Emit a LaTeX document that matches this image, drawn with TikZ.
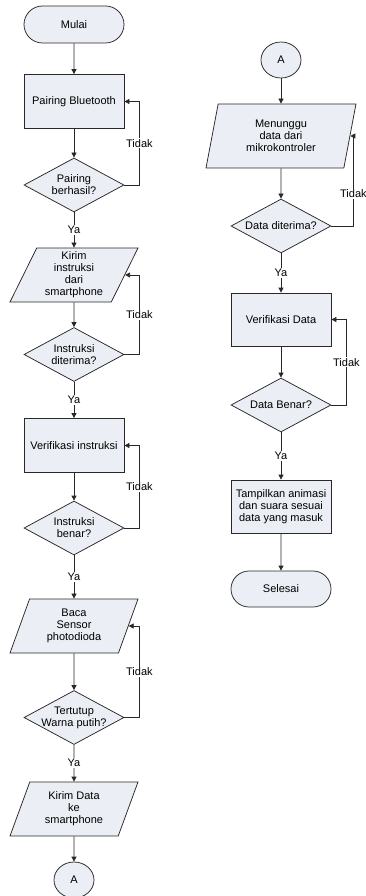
\documentclass[tikz,border=0pt]{standalone}
\usepackage{fontspec}
\setmainfont{Liberation Sans}
\usetikzlibrary{shapes.geometric,shapes.misc,arrows.meta}
\definecolor{boxfill}{RGB}{235,238,244}
\definecolor{linecol}{RGB}{40,40,40}
\tikzset{every picture/.style={line width=0.75pt}}
\tikzset{
  base/.style={draw=linecol, fill=boxfill, text=black, font=\fontsize{11}{12}\selectfont, align=center, inner sep=0pt},
  terminal/.style={base, rounded rectangle, minimum width=100pt, minimum height=37pt},
  process/.style={base, rectangle, minimum width=100pt, minimum height=54pt},
  decision/.style={base, diamond, aspect=1.85, minimum width=100pt, minimum height=54pt},
  io/.style={base, trapezium, trapezium stretches body, trapezium left angle=60, trapezium right angle=120, minimum width=128pt, minimum height=54pt},
  connector/.style={base, ellipse, minimum width=40pt, minimum height=36pt},
  flow/.style={draw=linecol, -{Triangle[length=5pt,width=5pt]}},
  answer/.style={fill=white, text=black, font=\fontsize{11}{12}\selectfont, inner sep=1pt}
}

\begin{document}
\begin{tikzpicture}[x=1pt,y=1pt,yscale=-1,xscale=1]
\useasboundingbox (0,0) rectangle (366,896);

%Left column
\node[terminal] (mulai) at (74,24.5) {Mulai};
\node[process] (pairing) at (74,101.5) {Pairing Bluetooth};
\node[decision] (cekpair) at (74,185) {Pairing\\berhasil?};
\node[io] (kirim) at (74,275) {Kirim\\instruksi\\dari\\smartphone};
\node[decision] (cekterima) at (74,354.5) {Instruksi\\diterima?};
\node[process] (verif) at (74,445.5) {Verifikasi instruksi};
\node[decision] (cekbenar) at (74,528) {Instruksi\\benar?};
\node[io] (baca) at (74,626) {Baca\\Sensor\\photodioda};
\node[decision, inner sep=-4pt] (cekputih) at (74,717.5) {Tertutup\\Warna putih?};
\node[io] (kirimdata) at (74,809) {Kirim Data\\ke\\smartphone};
\node[connector] (keA) at (74,880) {A};

%Right column
\node[connector] (dariA) at (281,60) {A};
\node[io, trapezium left angle=69, trapezium right angle=111, minimum width=150pt, minimum height=64pt] (tunggu) at (281,136) {Menunggu\\data dari\\mikrokontroler};
\node[decision] (cekdata) at (281,226) {Data diterima?};
\node[process, minimum height=53pt] (verifdata) at (281,319.5) {Verifikasi Data};
\node[decision] (cekbenardata) at (281,405) {Data Benar?};
\node[process, minimum height=53pt] (tampil) at (281,506.5) {Tampilkan animasi\\dan suara sesuai\\data yang masuk};
\node[terminal, minimum height=36pt] (selesai) at (281,589) {Selesai};

%Straight Lines
\draw[flow] (mulai) -- (pairing);
\draw[flow] (pairing) -- (cekpair);
\draw[flow] (cekpair) -- node[answer] {Ya} (kirim);
\draw[flow] (kirim) -- (cekterima);
\draw[flow] (cekterima) -- node[answer] {Ya} (verif);
\draw[flow] (verif) -- (cekbenar);
\draw[flow] (cekbenar) -- node[answer] {Ya} (baca);
\draw[flow] (baca) -- (cekputih);
\draw[flow] (cekputih) -- node[answer] {Ya} (kirimdata);
\draw[flow] (kirimdata) -- (keA);

\draw[flow] (dariA) -- (tunggu);
\draw[flow] (tunggu) -- (cekdata);
\draw[flow] (cekdata) -- node[answer] {Ya} (verifdata);
\draw[flow] (verifdata) -- (cekbenardata);
\draw[flow] (cekbenardata) -- node[answer] {Ya} (tampil);
\draw[flow] (tampil) -- (selesai);

%Loop back lines
\draw[flow] (cekpair.east) -- ++(15,0) |- node[answer, pos=0.25] {Tidak} (pairing.east);
\draw[flow] (cekterima.east) -- ++(15,0) |- node[answer, pos=0.25] {Tidak} (kirim.east);
\draw[flow] (cekbenar.east) -- ++(15,0) |- node[answer, pos=0.25] {Tidak} (verif.east);
\draw[flow] (cekputih.east) -- ++(15,0) |- node[answer, pos=0.25] {Tidak} (baca.east);
\draw[flow] (cekdata.east) -- ++(22,0) |- node[answer, pos=0.18] {Tidak} (tunggu.east);
\draw[flow] (cekbenardata.east) -- ++(15,0) |- node[answer, pos=0.25] {Tidak} (verifdata.east);
\end{tikzpicture}
\end{document}
